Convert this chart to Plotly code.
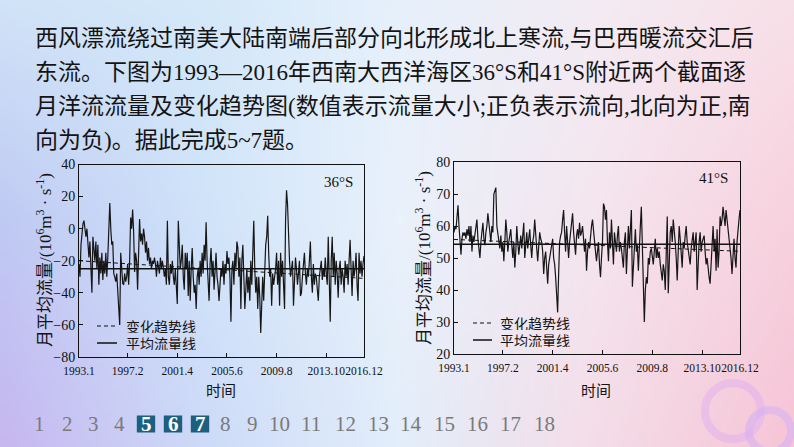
import base64
import struct
import zlib
import plotly.graph_objects as go

# ---------------- data ----------------
months = list(range(288))  # 1993.1 ... 2016.12, monthly
tick_idx = [0, 49, 99, 149, 199, 249, 287]
tick_text = ["1993.1", "1997.2", "2001.4", "2005.6", "2009.8", "2013.10", "2016.12"]

flow_36S = [
    -22, -30, -10, 0, 3, 5, 1, -5, 0, -12, -18, -8,          # 1993
    -30, -40, -5, -12, -20, -8, -25, -10, -35, -18, -28, -15,  # 1994
    -32, -20, -28, -15, -30, -18, -5, 16, 0, -10, -8, -28,     # 1995
    -30, -33, -28, -40, -45, -60, -15, -30, -34, -35, -28, -33,  # 1996
    -30, -22, -35, -20, 7, 0, 12, -2, -27, -15, -20, -38,      # 1997
    -12, 6, -8, -3, -10, 0, -5, -15, -8, -20, -12, -22,        # 1998
    -18, -25, -20, -22, -18, -22, -30, -20, -24, -28, -18, -25,  # 1999
    -20, -26, -30, -25, -35, 5, -30, -35, -22, -28, -20, -30,  # 2000
    -35, -25, -40, -47, 5, -10, -25, -20, -10, -30, -38, -15,  # 2001
    -25, -15, -42, -20, -45, -25, -12, -30, -40, -35, -50, -30,  # 2002
    -25, -35, -20, -30, -15, -28, -10, -20, 4, -20, -30, -45,  # 2003
    -22, -12, -30, -20, -38, -25, -15, -30, -35, -45, -37, -25,  # 2004
    -30, -20, -35, -22, -28, -14, -22, -18, -30, -58, -25, -20,  # 2005
    -35, -15, -25, -8, -12, -30, -18, -50, -20, -10, -30, -50,  # 2006
    -38, -25, -40, -30, -45, -20, -35, -15, 5, -25, -40, -30,  # 2007
    -50, -30, -42, -65, -40, -30, -45, -20, -10, -5, 8, -15,   # 2008
    -30, -25, -48, -28, -35, -30, -25, -15, -35, -20, -48, -15,  # 2009
    -30, -20, -35, -50, 5, 24, 15, -5, -20, -30, -25, -20,     # 2010
    -48, -30, -18, -25, -35, -28, -20, -42, -40, -30, -22, -15,  # 2011
    -28, -35, -25, -30, -20, -8, -30, -40, -22, -35, -28, -30,  # 2012
    -38, -45, -30, -22, -20, -32, -25, -30, -18, -28, -35, -5,  # 2013
    -25, -58, -20, -5, -30, -15, -35, -20, -28, -43, -25, -20,  # 2014
    -35, -25, -30, -40, -20, -30, -22, -35, -20, -7, -25, -42,  # 2015
    -20, -30, -25, -15, -35, -45, -15, -28, -20, -30, -22, -17,  # 2016
]

flow_41S = [
    58, 60, 59, 62, 66.5, 60, 55, 51, 56, 58, 57, 58,   # 1993
    56, 59, 57, 60, 55, 60, 52, 57, 55, 58, 60, 62,     # 1994
    56, 53, 50, 55, 58, 61, 56, 54, 58, 60, 64, 60,     # 1995
    56, 55, 60, 58, 70, 71, 72, 60, 58, 55, 53, 57,     # 1996
    52, 55, 49, 55, 62, 58, 52, 55, 57, 59, 54, 50,     # 1997
    55, 47, 52, 60, 55, 51, 54, 57, 53, 58, 61, 50,     # 1998
    55, 58, 53, 56, 59, 54, 50, 55, 57, 62, 56, 53,     # 1999
    49, 54, 58, 56, 55, 52, 45, 50, 52, 47, 42, 48,     # 2000
    50, 53, 55, 56, 50, 48, 44, 40, 33, 45, 55, 57,     # 2001
    58, 62, 65, 58, 52, 60, 55, 50, 55, 58, 60, 64,     # 2002
    58, 55, 51, 57, 59, 56, 61, 57, 58, 60, 55, 52,     # 2003
    56, 46, 52, 55, 53, 57, 60, 62, 58, 55, 52, 49,     # 2004
    52, 55, 48, 44, 50, 55, 67, 66, 62, 65, 55, 49,     # 2005
    58, 53, 62, 55, 48, 58, 54, 52, 57, 60, 52, 55,     # 2006
    53, 50, 47, 55, 58, 45, 56, 60, 53, 58, 65, 41,     # 2007
    48, 55, 59, 52, 54, 46, 56, 60, 66, 50, 38, 30,     # 2008
    40, 44, 42, 50, 48, 52, 53, 50, 48, 52, 56, 50,     # 2009
    53, 50, 52, 48, 45, 43, 48, 46, 40, 55, 63, 39,     # 2010
    50, 58, 60, 55, 62, 59, 55, 50, 43, 52, 60, 56,     # 2011
    52, 47, 55, 53, 57, 60, 55, 52, 50, 48, 53, 55,     # 2012
    58, 52, 55, 58, 40, 50, 55, 58, 52, 55, 56, 57,     # 2013
    52, 48, 50, 46, 44, 42, 50, 55, 60, 52, 56, 46,     # 2014
    59, 47, 52, 63, 60, 62, 66, 63, 60, 65, 62, 60,     # 2015
    58, 55, 50, 45, 52, 56, 50, 47, 55, 60, 62, 65,     # 2016
]

mean_36S = -25.0
trend_36S = [-20.0, -31.0]
mean_41S = 54.3
trend_41S = [55.8, 52.1]

page_numbers = [str(i) for i in range(1, 19)]
active_pages = ["5", "6", "7"]

text_lines = [
    "西风漂流绕过南美大陆南端后部分向北形成北上寒流,与巴西暖流交汇后",
    "东流。下图为1993—2016年西南大西洋海区36°S和41°S附近两个截面逐",
    "月洋流流量及变化趋势图(数值表示流量大小;正负表示流向,北向为正,南",
    "向为负)。据此完成5~7题。",
]

# ---------------- helpers ----------------
W, H = 794, 447


def px(x):
    return x / W


def py(y):
    return 1 - y / H


def hex2rgb(h):
    h = h.lstrip("#")
    return [int(h[i:i + 2], 16) for i in (0, 2, 4)]


bg_grid = [
    ["#d0e3f7", "#d4e8f9", "#e6f0fb", "#f3ebf3", "#f8e0e8"],
    ["#bfc9f3", "#cfe3f9", "#e9f1fb", "#f4e5ee", "#f7d1de"],
    ["#c6b7f0", "#cddaf8", "#e2eefa", "#f4dde8", "#f6c4d6"],
]


def make_png(w, h):
    grid = [[hex2rgb(c) for c in row] for row in bg_grid]
    nr, nc = len(grid), len(grid[0])
    rows = []
    for i in range(h):
        v = i / (h - 1) * (nr - 1)
        r0 = min(int(v), nr - 2)
        fv = v - r0
        row = bytearray([0])
        for j in range(w):
            u = j / (w - 1) * (nc - 1)
            c0 = min(int(u), nc - 2)
            fu = u - c0
            for k in range(3):
                a = grid[r0][c0][k] * (1 - fu) + grid[r0][c0 + 1][k] * fu
                b = grid[r0 + 1][c0][k] * (1 - fu) + grid[r0 + 1][c0 + 1][k] * fu
                row.append(int(round(a * (1 - fv) + b * fv)))
        rows.append(bytes(row))
    raw = b"".join(rows)

    def chunk(t, d):
        return struct.pack(">I", len(d)) + t + d + struct.pack(">I", zlib.crc32(t + d) & 0xFFFFFFFF)

    png = b"\x89PNG\r\n\x1a\n"
    png += chunk(b"IHDR", struct.pack(">IIBBBBB", w, h, 8, 2, 0, 0, 0))
    png += chunk(b"IDAT", zlib.compress(raw, 9))
    png += chunk(b"IEND", b"")
    return "data:image/png;base64," + base64.b64encode(png).decode()


SERIF = "Liberation Serif, Times New Roman, serif"
MIX = "Liberation Serif, Noto Sans CJK SC, serif"
CJK = "Noto Sans CJK SC, sans-serif"

fig = go.Figure()

fig.add_trace(go.Scatter(x=months, y=flow_36S, mode="lines", line=dict(color="#161616", width=1.2),
                         xaxis="x", yaxis="y", showlegend=False, hoverinfo="skip"))
fig.add_trace(go.Scatter(x=[months[0], months[-1]], y=[mean_36S, mean_36S], mode="lines",
                         line=dict(color="#111", width=1.5), xaxis="x", yaxis="y", showlegend=False))
fig.add_trace(go.Scatter(x=[months[0], months[-1]], y=trend_36S, mode="lines",
                         line=dict(color="#111", width=1, dash="4px,3px"), xaxis="x", yaxis="y",
                         showlegend=False))
fig.add_trace(go.Scatter(x=months, y=flow_41S, mode="lines", line=dict(color="#161616", width=1.2),
                         xaxis="x2", yaxis="y2", showlegend=False, hoverinfo="skip"))
fig.add_trace(go.Scatter(x=[months[0], months[-1]], y=[mean_41S, mean_41S], mode="lines",
                         line=dict(color="#111", width=1.5), xaxis="x2", yaxis="y2", showlegend=False))
fig.add_trace(go.Scatter(x=[months[0], months[-1]], y=trend_41S, mode="lines",
                         line=dict(color="#111", width=1, dash="4px,3px"), xaxis="x2", yaxis="y2",
                         showlegend=False))

axis_common = dict(showline=True, linecolor="#111", linewidth=1, mirror=True, ticks="inside",
                   ticklen=4, tickcolor="#111", showgrid=False, zeroline=False, automargin=False)

L = dict(x0=79, x1=364, y0=164.5, y1=357)
R = dict(x0=454, x1=740, y0=162, y1=354)

xfont = dict(family=SERIF, size=11.5, color="#111")
yfont = dict(family=SERIF, size=14, color="#111")

fig.update_layout(
    width=W, height=H, autosize=False,
    margin=dict(l=0, r=0, t=0, b=0, pad=0, autoexpand=False),
    showlegend=False,
    paper_bgcolor="#ffffff", plot_bgcolor="rgba(0,0,0,0)",
    xaxis=dict(domain=[px(L["x0"]), px(L["x1"])], anchor="y", range=[0, 287], tickangle=0,
               tickvals=tick_idx, ticktext=tick_text, tickfont=xfont, ticklabelstandoff=3, **axis_common),
    yaxis=dict(domain=[py(L["y1"]), py(L["y0"])], anchor="x", range=[-80, 40], dtick=20,
               tickfont=yfont, **axis_common),
    xaxis2=dict(domain=[px(R["x0"]), px(R["x1"])], anchor="y2", range=[0, 287], tickangle=0,
                tickvals=tick_idx, ticktext=tick_text, tickfont=xfont, ticklabelstandoff=3, **axis_common),
    yaxis2=dict(domain=[py(R["y1"]), py(R["y0"])], anchor="x2", range=[20, 80], dtick=10,
                tickfont=yfont, **axis_common),
    images=[dict(source=make_png(160, 90), xref="paper", yref="paper", x=0, y=1, sizex=1, sizey=1,
                 sizing="stretch", xanchor="left", yanchor="top", layer="below")],
)

annotations = []
shapes = []


def note(text, x, y, size, family, color="#141414", xanchor="center", yanchor="middle", **kw):
    annotations.append(dict(text=text, x=px(x), y=py(y), xref="paper", yref="paper",
                            xanchor=xanchor, yanchor=yanchor, showarrow=False,
                            font=dict(family=family, size=size, color=color), **kw))


for line, yc in zip(text_lines, [39, 72, 106, 140]):
    note(line, 33, yc, 23, MIX, xanchor="left")

ytitle = "月平均流量/(10<sup>6</sup>m<sup>3</sup> · s<sup>-1</sup>)"
for xc, yc in [(44, 260), (423, 258)]:
    note(ytitle, xc, yc, 17, MIX, textangle=-90)

for xc in [221, 596]:
    note("时间", xc, 389, 15, CJK)

note("36°S", 338, 182, 15, SERIF, color="#111")
note("41°S", 713, 178, 15, SERIF, color="#111")

for (sx0, sx1, tx, y1, y2) in [(97, 117, 125, 326, 343), (473, 492, 499, 323, 340)]:
    shapes.append(dict(type="line", xref="paper", yref="paper", x0=px(sx0), x1=px(sx1), y0=py(y1), y1=py(y1),
                       line=dict(color="#111", width=1, dash="4px,3px")))
    shapes.append(dict(type="line", xref="paper", yref="paper", x0=px(sx0), x1=px(sx1), y0=py(y2), y1=py(y2),
                       line=dict(color="#111", width=1.5)))
    note("变化趋势线", tx, y1, 14, CJK, xanchor="left", height=14, borderpad=0)
    note("平均流量线", tx, y2, 14, CJK, xanchor="left", height=14, borderpad=0)

page_x = [39.5, 67, 93, 119.5, 146, 173, 200, 225, 252, 279.5, 311, 345, 378, 411, 444.5, 477, 510, 544]
for label, xc in zip(page_numbers, page_x):
    active = label in active_pages
    if active:
        shapes.append(dict(type="rect", xref="paper", yref="paper", x0=px(xc - 9.2), x1=px(xc + 9.2),
                           y0=py(432.5), y1=py(415.5), fillcolor="#1d5f7f", line=dict(width=0)))
    note(f"<b>{label}</b>" if active else label, xc, 424, 21, SERIF,
         color="#ffffff" if active else "#7a7a7a")

for (cx, cy, rr, col) in [(733, 411, 28, "rgba(226,176,238,0.55)"), (770, 431, 21, "rgba(214,178,242,0.6)")]:
    shapes.append(dict(type="circle", xref="paper", yref="paper", x0=px(cx - rr), x1=px(cx + rr),
                       y0=py(cy + rr), y1=py(cy - rr), line=dict(color=col, width=8), layer="below"))

fig.update_layout(annotations=annotations, shapes=shapes)
fig.write_html("out.html")
